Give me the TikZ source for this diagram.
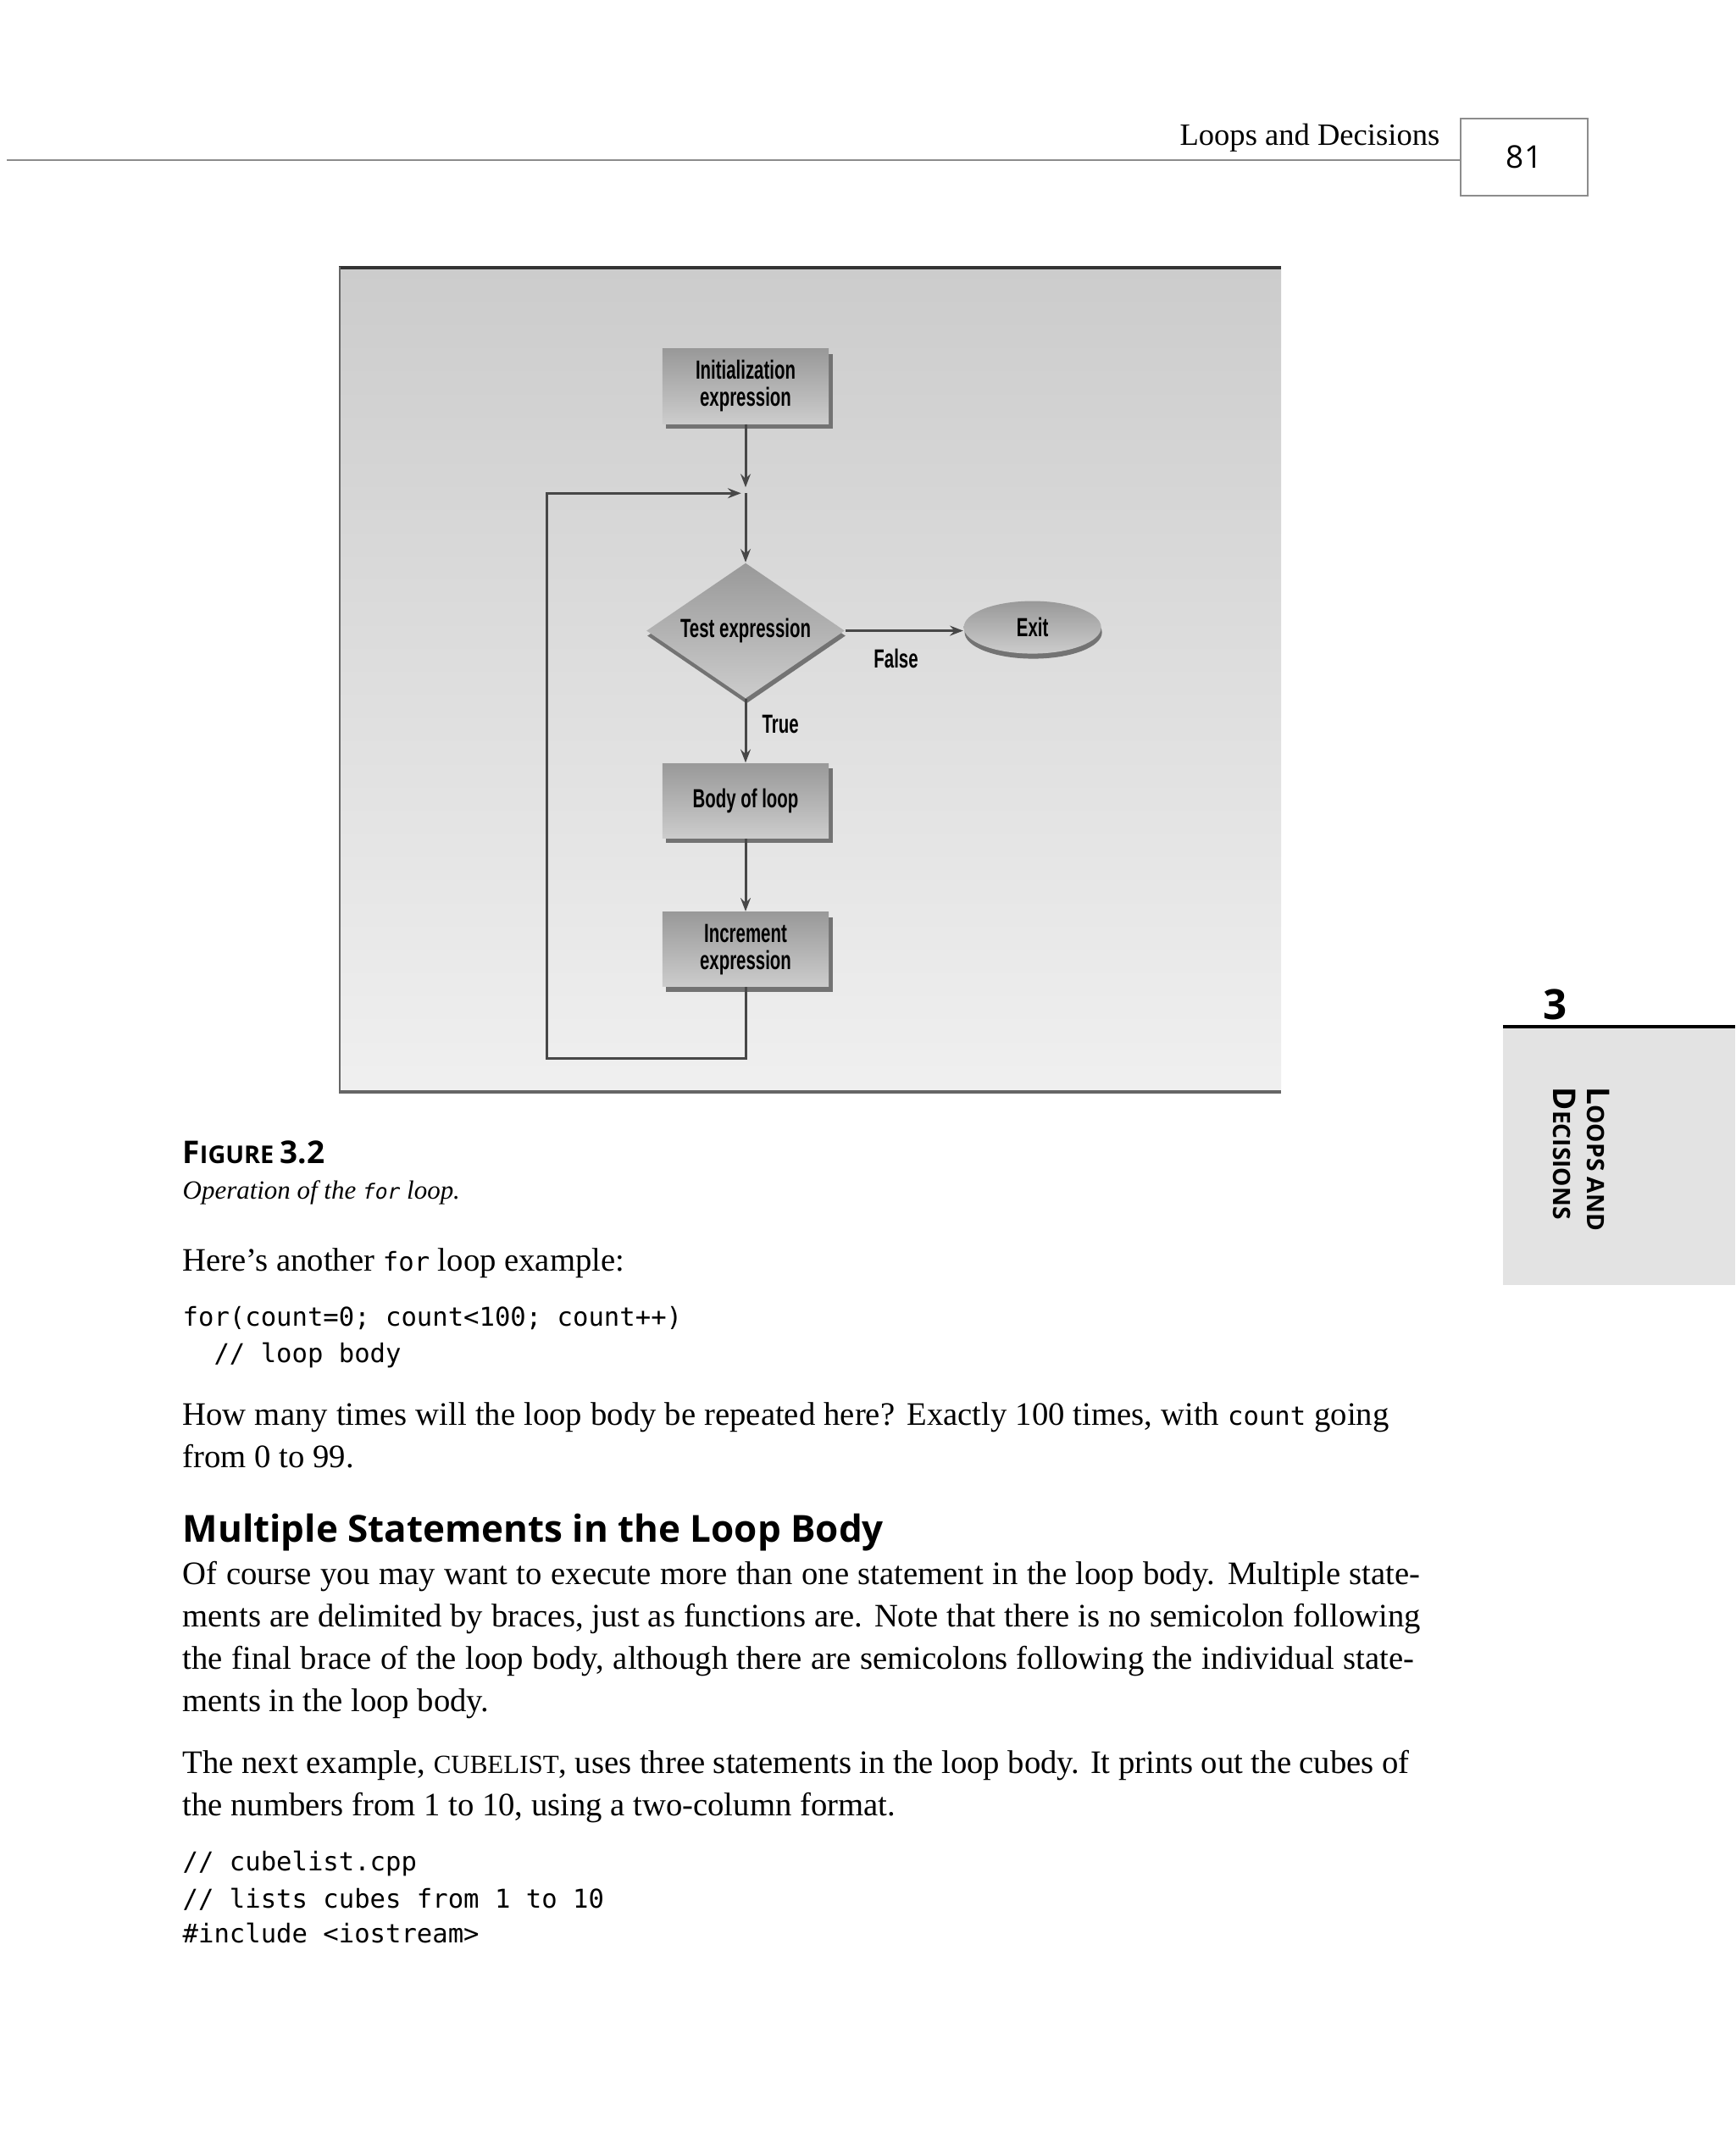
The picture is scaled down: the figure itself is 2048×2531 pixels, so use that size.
\documentclass[tikz,border=0pt]{standalone}
\usepackage{fontspec}
\setmainfont{Liberation Serif}
\newfontfamily\chartfont[FakeStretch=0.66]{Liberation Sans}
\newfontfamily\headfont{Open Sans}
\newfontfamily\codefont{DejaVu Sans Mono}
\usetikzlibrary{positioning, arrows.meta, calc, shapes.geometric, shadows}

\newcommand{\cd}[1]{{\codefont\fontsize{8.7}{10}\selectfont #1}}
\newcommand{\bodysize}{\fontsize{11}{13}\selectfont}

\begin{document}
\begin{tikzpicture}[
    x=0.01cm, y=-0.01cm,
    chart/.style    = {inner sep=0pt, align=center, top color=black!40, bottom color=black!20,
                       font=\chartfont\bfseries\fontsize{8.8}{9.1}\selectfont},
    proc/.style     = {chart, rectangle, minimum width=1.96cm, minimum height=0.88cm,
                       drop shadow={shadow xshift=0.045cm, shadow yshift=-0.06cm, fill=black!55, opacity=1}},
    decision/.style = {chart, diamond, minimum width=2.34cm, minimum height=1.6cm, aspect=1.46,
                       drop shadow={shadow xshift=0.01cm, shadow yshift=-0.06cm, fill=black!55, opacity=1}},
    terminal/.style = {chart, ellipse, minimum width=1.62cm, minimum height=0.62cm,
                       drop shadow={shadow xshift=0.01cm, shadow yshift=-0.06cm, fill=black!55, opacity=1}},
    lbl/.style      = {inner sep=0pt, font=\chartfont\bfseries\fontsize{8.8}{9.1}\selectfont},
    line/.style     = {draw=black!72, line width=0.85pt},
    arrow/.style    = {line, -{Stealth[length=4.5pt, width=3.4pt, inset=1.6pt]}},
    txt/.style      = {anchor=base west, inner sep=0pt, font=\bodysize},
    code/.style     = {anchor=base west, inner sep=0pt, font=\codefont\fontsize{8.7}{10}\selectfont},
    sans/.style     = {inner sep=0pt, font=\headfont\bfseries},
    node distance   = 0.75cm
]
\useasboundingbox (0,0) rectangle (2048,2531);
\fill[white] (0,0) rectangle (2048,2531);

% Running head
\draw[black!45, line width=0.8pt] (8,189) -- (1724,189);
\node[draw=black!45, line width=0.8pt, minimum width=1.5cm, minimum height=0.91cm,
      font=\headfont\fontsize{10.5}{12}\selectfont] (pgno) at (1799,185.5) {81};
\node[txt, anchor=base east, font=\fontsize{10.4}{12}\selectfont] (runhead) at (1700,172) {Loops and Decisions};

% Chapter tab
\fill[black!11] (1774,1214) rectangle (2048,1517);
\draw[line width=1.1pt] (1774,1212) -- (2048,1212);
\node[sans, anchor=base, font=\headfont\bfseries\fontsize{14}{14}\selectfont] (chapno) at (1836,1203) {3};
\node[sans, rotate=-90, anchor=base west] (tab1) at (1873,1283)
    {\fontsize{10.5}{12}\selectfont L\fontsize{8}{10}\selectfont OOPS AND};
\node[sans, rotate=-90, anchor=base west] (tab2) at (1833,1283)
    {\fontsize{10.5}{12}\selectfont D\fontsize{8}{10}\selectfont ECISIONS};

% Figure background
\shade[top color=black!20, bottom color=black!6] (400,315) rectangle (1512,1290);
\draw[black!80, line width=1pt]  (400,316) -- (1512,316);
\draw[black!60, line width=0.8pt] (401,315) -- (401,1290);
\draw[black!60, line width=0.9pt] (400,1289) -- (1512,1289);

% Flowchart
\node[proc] (init) at (880,456) {Initialization\\expression};
\node[decision, below=1.63cm of init] (test) {Test expression};
\node[proc, below=0.75cm of test]     (body) {Body of loop};
\node[proc, below=0.86cm of body]     (incr) {Increment\\expression};
\node[terminal, right=1.39cm of test, yshift=0.04cm] (exit) {Exit};

\coordinate (jn)    at ($(init.south)!0.5!(test.north)$);
\coordinate (loopB) at ($(incr.south)+(-235,84)$);

\draw[arrow, shorten >=2pt] (init) -- (jn);
\draw[arrow] (jn)   -- (test);
\draw[arrow] (test) -- node[lbl, below=0.2cm, pos=0.43]{False} (test -| exit.west);
\draw[arrow] (test) -- node[lbl, right=0.18cm, pos=0.4]{True} (body);
\draw[arrow] (body) -- (incr);
\draw[arrow, shorten >=1.5pt] (incr) |- (loopB) |- (jn);

% Caption
\node[sans, anchor=base west] (fig) at (215,1373)
    {\fontsize{10.5}{12}\selectfont F\fontsize{8.2}{10}\selectfont IGURE \fontsize{10.5}{12}\selectfont 3.2};
\node[txt, font=\fontsize{8.8}{11}\selectfont\itshape] (figcap) at (215,1415)
    {Operation of the {\codefont\fontsize{7}{9}\selectfont for} loop.};

% Body text
\node[txt]  (p1)  at (215,1500) {Here’s another \cd{for} loop example:};
\node[code] (c1)  at (215,1565) {for(count=0; count<100; count++)};
\node[code] (c2)  at (215,1608) {\hphantom{xx}// loop body};
\node[txt]  (p2a) at (215,1682) {\makebox[14.23cm][s]{How many times will the loop body be repeated here? Exactly 100 times, with \cd{count} going}};
\node[txt]  (p2b) at (215,1732) {from 0 to 99.};

\node[sans, anchor=base west, font=\headfont\bfseries\fontsize{12.5}{14}\selectfont] (head) at (215,1820)
    {Multiple Statements in the Loop Body};

\node[txt]  (p3a) at (215,1870) {\makebox[14.6cm][s]{Of course you may want to execute more than one statement in the loop body. Multiple state-}};
\node[txt]  (p3b) at (215,1920) {\makebox[14.6cm][s]{ments are delimited by braces, just as functions are. Note that there is no semicolon following}};
\node[txt]  (p3c) at (215,1970) {\makebox[14.53cm][s]{the final brace of the loop body, although there are semicolons following the individual state-}};
\node[txt]  (p3d) at (215,2020) {ments in the loop body.};

\node[txt]  (p4a) at (215,2093) {\makebox[14.47cm][s]{The next example, {\fontsize{8.8}{10}\selectfont CUBELIST}, uses three statements in the loop body. It prints out the cubes of}};
\node[txt]  (p4b) at (215,2143) {the numbers from 1 to 10, using a two-column format.};

\node[code] (c3)  at (215,2208) {// cubelist.cpp};
\node[code] (c4)  at (215,2252) {// lists cubes from 1 to 10};
\node[code] (c5)  at (215,2293) {\#include <iostream>};

\end{tikzpicture}
\end{document}
